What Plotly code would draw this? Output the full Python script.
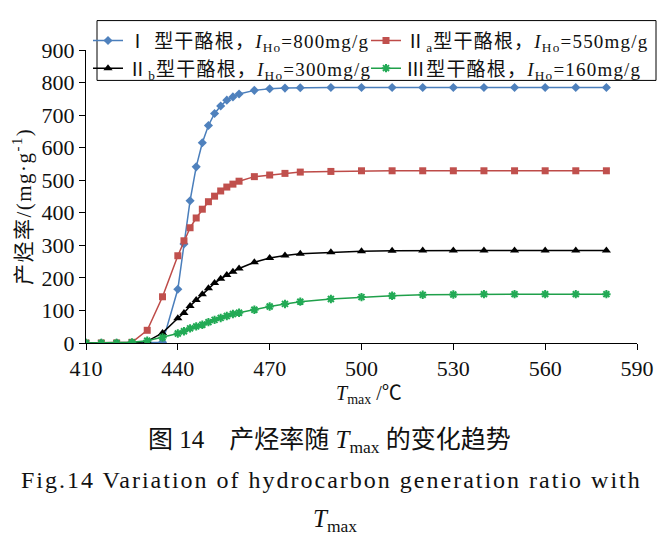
import plotly.graph_objects as go

# ---- data ----
tmax = [410, 415, 420, 425, 430, 435, 440, 442, 444, 446, 448, 450, 452, 454, 456, 458,
        460, 465, 470, 475, 480, 490, 500, 510, 520, 530, 540, 550, 560, 570, 580]
type_I = [0, 0, 0, 0, 0, 2, 165, 304, 437, 541, 615, 668, 705, 728, 746, 756,
          765, 776, 781, 783, 784, 785, 785, 785, 785, 785, 785, 785, 785, 785, 785]
type_IIa = [0, 0, 0, 2, 39, 142, 268, 314, 354, 384, 411, 434, 451, 467, 479, 488,
            497, 511, 516, 521, 525, 527, 529, 529, 529, 529, 529, 529, 529, 529, 529]
type_IIb = [0, 0, 0, 0, 5, 31, 76, 92, 114, 132, 150, 168, 184, 197, 209, 219,
            229, 248, 261, 269, 274, 279, 282, 283, 284, 284, 284, 284, 284, 284, 284]
type_III = [0, 0, 0, 2, 7, 17, 29, 36, 45, 51, 56, 64, 71, 77, 83, 89,
            93, 102, 112, 120, 127, 135, 141, 145, 148, 149, 150, 150, 150, 150, 150]

names = [
    "Ⅰ 型干酪根，<i>I</i><sub>Ho</sub>=800mg/g",
    "Ⅱ<sub>a</sub>型干酪根，<i>I</i><sub>Ho</sub>=550mg/g",
    "Ⅱ<sub>b</sub>型干酪根，<i>I</i><sub>Ho</sub>=300mg/g",
    "Ⅲ型干酪根，<i>I</i><sub>Ho</sub>=160mg/g",
]
x_ticks = [410, 440, 470, 500, 530, 560, 590]
y_ticks = [0, 100, 200, 300, 400, 500, 600, 700, 800, 900]

FONT = "Liberation Serif, Times New Roman, Noto Sans CJK SC, serif"
TXT = "#111111"

series = [
    (type_I, "#4A7EBB", "#4F81BD", "diamond", 7, "legend"),
    (type_IIa, "#BE4B48", "#C0504D", "square", 7, "legend2"),
    (type_IIb, "#000000", "#000000", "triangle-up", 8, "legend"),
    (type_III, "#1FA04A", "#22AA55", "asterisk-open", 7, "legend2"),
]

fig = go.Figure()
for (vals, lc, mc, sym, ms, lg), nm in zip(series, names):
    marker = dict(symbol=sym, size=ms, color=mc)
    if sym.endswith("open"):
        marker["line"] = dict(color=mc, width=2)
    else:
        marker["line"] = dict(width=0)
    fig.add_trace(go.Scatter(
        x=tmax, y=vals, mode="lines+markers", legend=lg,
        name='<span style="letter-spacing:1.2px">' + nm + "</span>",
        line=dict(color=lc, width=1.5), marker=marker,
    ))

# plot-area pixel geometry
L, R, T, B = 86, 637, 49.5, 343.3
W, H = 665, 549


def px(x):
    return (x - L) / (R - L)


def py(y):
    return (B - y) / (B - T)


legend_common = dict(
    orientation="v", xanchor="left", yanchor="top",
    bgcolor="rgba(0,0,0,0)", borderwidth=0,
    font=dict(family=FONT, size=19, color=TXT),
    tracegroupgap=0, itemwidth=30,
)

fig.update_layout(
    width=W, height=H,
    margin=dict(l=L, r=W - R, t=T, b=H - B, autoexpand=False),
    paper_bgcolor="white", plot_bgcolor="white",
    font=dict(family=FONT, size=18, color=TXT),
    showlegend=True,
    legend=dict(x=px(88), y=py(21), **legend_common),
    legend2=dict(x=px(366), y=py(21), **legend_common),
    xaxis=dict(
        range=[410, 590], tickvals=x_ticks, ticktext=[str(v) for v in x_ticks],
        showgrid=False, zeroline=False, showline=True, linecolor="black", linewidth=1,
        ticks="outside", ticklen=6, tickcolor="black", tickwidth=1,
        tickfont=dict(family=FONT, size=22, color=TXT), automargin=False,
    ),
    yaxis=dict(
        range=[0, 900], tickvals=y_ticks, ticktext=[str(v) for v in y_ticks],
        showgrid=False, zeroline=False, showline=True, linecolor="black", linewidth=1,
        ticks="outside", ticklen=6, tickcolor="black", tickwidth=1,
        tickfont=dict(family=FONT, size=22, color=TXT), automargin=False,
    ),
)

# legend frame
fig.add_shape(type="rect", xref="paper", yref="paper",
              x0=px(97), x1=px(656), y0=py(80), y1=py(20),
              line=dict(color="black", width=1), fillcolor="white", layer="below")

ann = [
    dict(text='<span style="letter-spacing:1.5px">产烃率/(mg·g<sup>-1</sup>)</span>',
         x=px(22), y=py(207), textangle=-90, font=dict(size=21)),
    dict(text="<i>T</i><sub>max</sub> /℃", x=px(369), y=py(395), font=dict(size=20)),
    dict(text="图 14　产烃率随 <i>T</i><sub>max</sub> 的变化趋势", x=px(329), y=py(442),
         font=dict(size=25)),
    dict(text='<span style="letter-spacing:2px">Fig.14 Variation of hydrocarbon '
              'generation ratio with</span>', x=px(331), y=py(481), font=dict(size=24)),
    dict(text="<i>T</i><sub>max</sub>", x=px(335), y=py(521), font=dict(size=25)),
]
for a in ann:
    a.update(xref="paper", yref="paper", showarrow=False, xanchor="center",
             yanchor="middle")
    fig.add_annotation(**a)

fig.write_html("out.html", config={"displayModeBar": False},
               post_script="document.body.style.margin='0';")
